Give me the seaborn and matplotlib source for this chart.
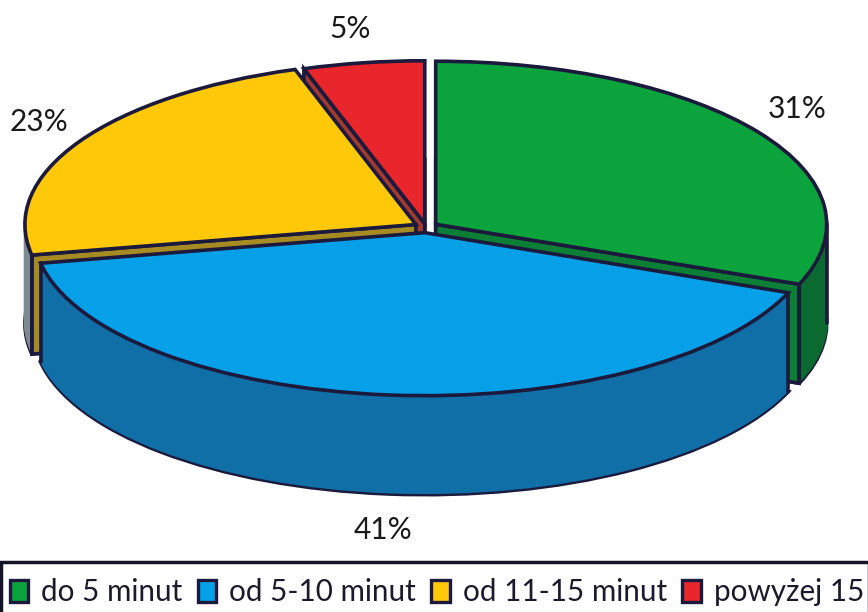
import numpy as np
import matplotlib
matplotlib.use("Agg")
import matplotlib.pyplot as plt
from matplotlib.patches import Patch, Polygon, Rectangle
import seaborn as sns

categories = ["do 5 minut", "od 5-10 minut", "od 11-15 minut", "powyżej 15"]
values = [31, 41, 23, 5]
top_colors = ["#0ba33c", "#06a0e8", "#ffc90a", "#e8262c"]
rim_colors = ["#0a6a2f", "#0f6fa6", "#7d8a90", "#8a2a25"]
cut_colors = ["#0b7f36", "#0f6fa6", "#a68a22", "#a33a30"]

W, H = 868, 612
CX, CY = 426, 227   # pie centre in pixels
RX, RY = 391, 163   # ellipse radii in pixels
DEPTH = 99 / RY
EDGE = "#1b1a3c"
LW = 2.6
explode = [0.03, 0.035, 0.03, 0.02]
draw_order = [3, 2, 0, 1]  # back to front

sns.set_theme(style="white")
plt.rcParams["font.family"] = ["Lato", "DejaVu Sans"]

fig = plt.figure(figsize=(W / 100, H / 100), dpi=100)
ax = fig.add_axes([0, 0, 1, 1])

def px(x, y):
    return (x - CX) / RX, (CY - y) / RY

# side layers, from bottom to top
layers = np.linspace(-DEPTH, 0, 61)
for n, off in enumerate(layers):
    wedges, _ = ax.pie(values, colors=rim_colors, startangle=90, counterclock=False,
                       explode=explode, center=(0, off), frame=False)
    for i, w in enumerate(wedges):
        w.set_zorder(draw_order.index(i) * 10 + 1)
        if n == 0:
            w.set_edgecolor(EDGE)
            w.set_linewidth(LW)
        else:
            w.set_edgecolor(rim_colors[i])
            w.set_linewidth(1.5)

# top faces
tops, _ = ax.pie(values, colors=top_colors, startangle=90, counterclock=False,
                 explode=explode, center=(0, 0), frame=False,
                 wedgeprops=dict(edgecolor=EDGE, linewidth=LW))

cut_angle = {0: "theta1", 2: "theta2", 3: "theta2"}
outer_angle = {0: 0, 2: 180}  # where the rim silhouette turns
for i, w in enumerate(tops):
    z = draw_order.index(i) * 10
    w.set_zorder(z + 5)
    cx, cy = w.center
    # flat cut face of the slice
    if i in cut_angle:
        a = np.deg2rad(getattr(w, cut_angle[i]))
        ex, ey = cx + w.r * np.cos(a), cy + w.r * np.sin(a)
        ax.add_patch(Polygon([(cx, cy), (ex, ey), (ex, ey - DEPTH), (cx, cy - DEPTH)],
                             closed=True, facecolor=cut_colors[i], edgecolor=EDGE,
                             linewidth=LW, zorder=z + 3))
    # outer vertical edges of the rim
    angles = [w.theta1, w.theta2]
    if i in outer_angle:
        angles.append(outer_angle[i])
    for t in angles:
        a = np.deg2rad(t)
        ex, ey = cx + w.r * np.cos(a), cy + w.r * np.sin(a)
        if ey <= cy:
            ax.plot([ex, ex], [ey, ey - DEPTH], color=EDGE, lw=LW, zorder=z + 4)

label_pos = [(797, 109), (383, 530), (39, 122), (350, 29)]
for v, (x, y) in zip(values, label_pos):
    lx, ly = px(x, y)
    ax.text(lx, ly, f"{v}%", ha="center", va="center", fontsize=21.5, color="#1a1a1a", zorder=60)

ax.set_aspect("auto")
ax.set_xlim(px(0, 0)[0], px(W, 0)[0])
ax.set_ylim(px(0, H)[1], px(0, 0)[1])
ax.axis("off")

# legend box runs off the bottom of the scan
fig.add_artist(Rectangle((1 / W, -0.02), 1.0, 1.02 - 562 / H, transform=fig.transFigure,
                         facecolor="white", edgecolor="#15152a", linewidth=2.5, zorder=65))

handles = [Patch(facecolor=c, edgecolor=EDGE, linewidth=2.4) for c in top_colors]
leg = fig.legend(handles, categories, ncol=4, loc="center left",
                 bbox_to_anchor=(10 / W, 1 - 592 / H), bbox_transform=fig.transFigure,
                 fontsize=21.3, frameon=False,
                 handlelength=0.62, handleheight=0.75, handletextpad=0.44,
                 columnspacing=0.52, borderaxespad=0, borderpad=0, labelcolor="#1a1a2a")
leg.set_zorder(70)

fig.savefig("out.png", dpi=100, facecolor="white")
